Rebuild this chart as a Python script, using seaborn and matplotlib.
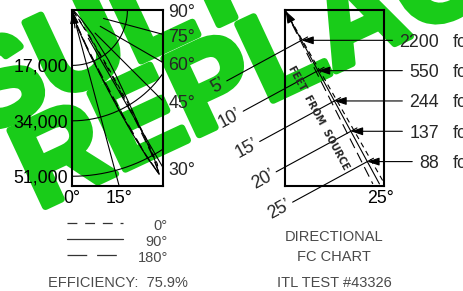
import numpy as np
import pandas as pd
import matplotlib
matplotlib.use("Agg")
import matplotlib.pyplot as plt
import matplotlib.transforms as mtransforms
import matplotlib.patheffects as pe
import seaborn as sns

# ---------------- data ----------------
vert_angles = [0, 5, 10, 15, 18, 20, 22, 24, 25, 26, 27, 28, 29, 30, 31, 32, 34, 36, 40, 45, 60, 90]
cd_plane_0 = [0, 200, 800, 2500, 5000, 8000, 14000, 24000, 32000, 41000, 50000, 56500, 54000, 45000,
              33000, 22000, 9000, 4000, 1500, 600, 200, 0]
cd_plane_90 = [0, 200, 900, 3000, 6000, 9000, 15000, 25000, 33000, 42000, 51000, 57000, 52000, 42000,
               36000, 31000, 24000, 19000, 10000, 4000, 800, 0]
cd_plane_180 = [0, 150, 600, 2000, 4000, 7000, 12000, 20000, 27000, 38000, 50000, 57500, 50000, 38000,
                26000, 16000, 6000, 2500, 800, 300, 100, 0]
plane_labels = ["0°", "90°", "180°"]
cd_ring_values = [17000, 34000, 51000]
grid_angles = [15, 30, 45, 60, 75]
grid_start_cd = [5000, 10000, 10000, 10000, 10000]
side_angle_labels = [30, 45, 60, 75, 90]
bottom_angle_labels = [0, 15]

distances_ft = [5, 10, 15, 20, 25]
fc_values = [2200, 550, 244, 137, 88]
fc_plane_angles = [29.8, 28.5, 26.8]   # 0°, 90°, 180° beam lines
beam_angle = 28.5
beam_label = "25°"
efficiency = 75.9
test_number = "43326"
watermark_lines = ["RESULTS", "REPLACED"]

# ---------------- style ----------------
sns.set_theme(style="white")
plt.rcParams["font.family"] = ["Liberation Sans", "DejaVu Sans"]
plt.rcParams["axes.edgecolor"] = "black"

FW, FH = 464, 291
fig = plt.figure(figsize=(FW / 100, FH / 100), dpi=100)
fig.patch.set_facecolor("white")

plane_dashes = {"0°": (4.8, 3.8), "90°": "", "180°": (9.6, 4.8)}
black_pal = {p: "black" for p in plane_labels}
LBL = 12.8
GREY = "#4a4a4a"

# background overlay (pixel coordinates) for watermark and captions
bg = fig.add_axes([0, 0, 1, 1], zorder=-1)
bg.set_xlim(0, FW)
bg.set_ylim(FH, 0)
bg.axis("off")

green = "#19cc19"
wm_rot = 25
wm_fs = 88
wm_fx = [pe.withStroke(linewidth=5, foreground=green)]
bg.text(-174, 208, watermark_lines[0], rotation=wm_rot, rotation_mode="anchor", ha="left",
        va="baseline", fontsize=wm_fs, fontweight="bold", color=green, path_effects=wm_fx)
bg.text(38, 210, watermark_lines[1], rotation=wm_rot, rotation_mode="anchor", ha="left",
        va="baseline", fontsize=wm_fs, fontweight="bold", color=green, path_effects=wm_fx)

# ---------------- left: candela polar quadrant ----------------
PX_KCD = 3.26
axL = fig.add_axes([72 / FW, 1 - 186 / FH, 91 / FW, 176 / FH])
WL = 91 / PX_KCD * 1000
HL = 176 / PX_KCD * 1000
axL.set_xlim(0, WL)
axL.set_ylim(-HL, 0)
axL.set_facecolor("none")
for sp in axL.spines.values():
    sp.set_visible(True)
    sp.set_linewidth(1.5)
    sp.set_color("black")

th = np.radians(np.linspace(0, 90, 300))
for r in cd_ring_values:
    axL.plot(r * np.sin(th), -r * np.cos(th), color="black", lw=0.8)
for a, r0 in zip(grid_angles, grid_start_cd):
    t = np.radians(a)
    axL.plot([r0 * np.sin(t), 2e5 * np.sin(t)], [-r0 * np.cos(t), -2e5 * np.cos(t)],
             color="black", lw=0.8)

rows = []
for lab, vals in zip(plane_labels, [cd_plane_0, cd_plane_90, cd_plane_180]):
    for i, (a, v) in enumerate(zip(vert_angles, vals)):
        t = np.radians(a)
        rows.append({"plane": lab, "order": i, "x": v * np.sin(t), "y": -v * np.cos(t)})
dfL = pd.DataFrame(rows)
sns.lineplot(data=dfL, x="x", y="y", hue="plane", style="plane", palette=black_pal,
             dashes=plane_dashes, sort=False, estimator=None, legend=False, lw=0.8, ax=axL)
axL.annotate("", xy=(300, -500), xytext=(900, -5500),
             arrowprops=dict(arrowstyle="-|>,head_length=0.6,head_width=0.22", lw=0.8,
                             color="black", shrinkA=0, shrinkB=0), annotation_clip=False)

axL.set_yticks([-v for v in cd_ring_values])
axL.set_yticklabels([f"{v:,}" for v in cd_ring_values])
axL.set_xticks([0 if a == 0 else HL * np.tan(np.radians(a)) for a in bottom_angle_labels])
axL.set_xticklabels([f"{a}°" for a in bottom_angle_labels])
axL.tick_params(length=0, labelsize=LBL, colors="black", pad=3)
axL.set_xlabel("")
axL.set_ylabel("")
for a in side_angle_labels:
    yv = 0 if a == 90 else -WL / np.tan(np.radians(a))
    axL.annotate(f"{a}°", xy=(WL, yv), xytext=(4, -2), textcoords="offset points",
                 ha="left", va="center", fontsize=LBL, annotation_clip=False)

# ---------------- right: directional fc chart ----------------
PX_FT = 6.9
axR = fig.add_axes([285 / FW, 1 - 186 / FH, 99 / FW, 176 / FH])
WR = 99 / PX_FT
HR = 176 / PX_FT
axR.set_xlim(0, WR)
axR.set_ylim(-HR, 0)
axR.set_facecolor("none")
for sp in axR.spines.values():
    sp.set_visible(True)
    sp.set_linewidth(1.5)
    sp.set_color("black")

rows = []
for lab, a in zip(plane_labels, fc_plane_angles):
    t = np.radians(a)
    dend = (HR - 0.3) / np.cos(t)
    for i, d in enumerate([0.0, dend]):
        rows.append({"plane": lab, "order": i, "x": d * np.sin(t), "y": -d * np.cos(t)})
dfR = pd.DataFrame(rows)
sns.lineplot(data=dfR, x="x", y="y", hue="plane", style="plane", palette=black_pal,
             dashes=plane_dashes, sort=False, estimator=None, legend=False, lw=0.8, ax=axR)

beta = np.radians(beam_angle)
bdir = np.array([np.sin(beta), -np.cos(beta)])
perp = np.array([-np.cos(beta), -np.sin(beta)])
axR.annotate("", xy=(0.1, -0.15), xytext=tuple(2.5 * bdir),
             arrowprops=dict(arrowstyle="-|>,head_length=0.6,head_width=0.22", lw=0.8,
                             color="black", shrinkA=0, shrinkB=0), annotation_clip=False)

tf_fc = mtransforms.blended_transform_factory(fig.transFigure, axR.transData)
tf_fc_txt = mtransforms.offset_copy(tf_fc, fig=fig, y=-4.6, units="points")
num_right_px = 439
unit_left_px = 453
digit_px = 0.556 * LBL * 100 / 72
for d, fc in zip(distances_ft, fc_values):
    p = d * bdir
    s = f"{fc}"
    axR.text(num_right_px / FW, p[1], s, transform=tf_fc_txt, ha="right", va="baseline",
             fontsize=LBL, clip_on=False)
    axR.text(unit_left_px / FW, p[1], "fc", transform=tf_fc_txt, ha="left", va="baseline",
             fontsize=LBL, clip_on=False)
    line_end = (num_right_px - len(s) * digit_px - 7) / FW
    axR.annotate("", xy=tuple(p), xytext=(line_end, p[1]), textcoords=tf_fc,
                 arrowprops=dict(arrowstyle="-|>,head_length=0.6,head_width=0.2", lw=0.8,
                                 color="black", shrinkA=0, shrinkB=0), annotation_clip=False)
    a0 = p + perp * (-7 / PX_FT)
    a1 = p + perp * (85 / PX_FT)
    axR.plot([a0[0], a1[0]], [a0[1], a1[1]], color="black", lw=0.8, clip_on=False)
    lp = p + perp * (88 / PX_FT)
    axR.text(lp[0], lp[1], f"{d}’", rotation=beam_angle, rotation_mode="anchor", ha="right",
             va="center", fontsize=LBL, clip_on=False)

fp = 16 * bdir + perp * (22 / PX_FT)
axR.text(fp[0], fp[1], "FEET  FROM  SOURCE", rotation=-(90 - beam_angle), rotation_mode="anchor",
         ha="center", va="center", fontsize=7, fontweight="bold", family="DejaVu Sans")

axR.set_yticks([])
axR.set_xticks([HR * np.tan(beta)])
axR.set_xticklabels([beam_label])
axR.tick_params(length=0, labelsize=LBL, colors="black", pad=3)
axR.set_xlabel("")
axR.set_ylabel("")

# ---------------- captions / legend ----------------
leg_y = [223, 239, 255]
for lab, y in zip(plane_labels, leg_y):
    ls = "-" if plane_dashes[lab] == "" else (0, tuple(v * 0.8 / 0.9 * 1.85 for v in plane_dashes[lab]))
    bg.plot([67, 123], [y, y], color="#333333", lw=0.9, linestyle=ls)
    bg.text(168, y + 7, lab, ha="right", va="baseline", fontsize=10.5, color=GREY)

bg.text(118, 287, f"EFFICIENCY:  {efficiency}%", ha="center", va="baseline", fontsize=10.5, color=GREY)
bg.text(334, 241, "DIRECTIONAL", ha="center", va="baseline", fontsize=10.5, color=GREY)
bg.text(334, 261, "FC CHART", ha="center", va="baseline", fontsize=10.5, color=GREY)
bg.text(334, 287, f"ITL TEST #{test_number}", ha="center", va="baseline", fontsize=10.5, color=GREY)

fig.savefig("out.png", dpi=100)
